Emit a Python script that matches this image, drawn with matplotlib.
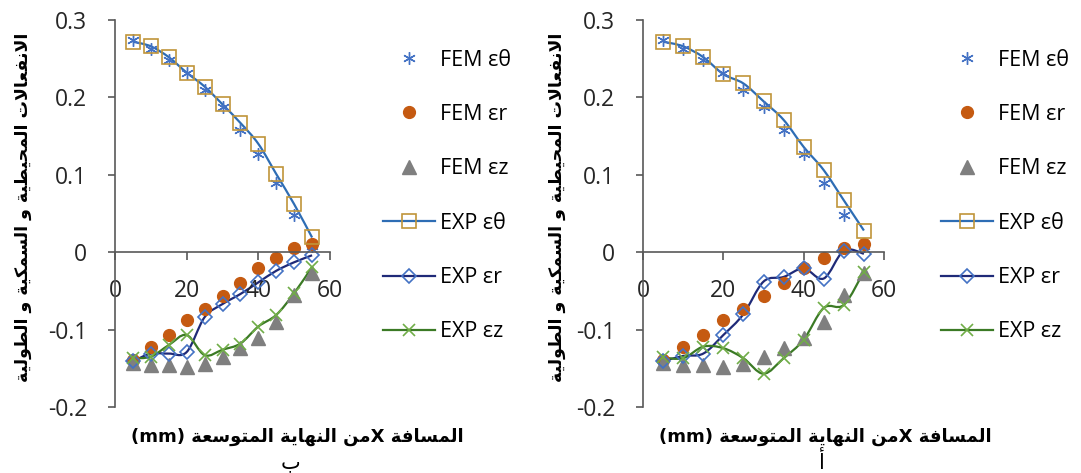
import numpy as np
import matplotlib
matplotlib.use("Agg")
import matplotlib.pyplot as plt
from matplotlib.path import Path
from matplotlib.patches import PathPatch
from matplotlib.lines import Line2D

plt.rcParams["font.family"] = ["Open Sans", "DejaVu Sans"]

# distance from the expanded end (mm)
x = [5, 10, 15, 20, 25, 30, 35, 40, 45, 50, 55]

# FEM results (same model in both panels)
fem_theta = [0.274, 0.263, 0.248, 0.232, 0.210, 0.188, 0.158, 0.127, 0.089, 0.048, 0.008]
fem_r = [-0.139, -0.122, -0.107, -0.088, -0.073, -0.057, -0.040, -0.021, -0.007, 0.005, 0.011]
fem_z = [-0.143, -0.146, -0.146, -0.148, -0.144, -0.136, -0.124, -0.111, -0.090, -0.055, -0.027]

# experiment, panel b (left)
exp_theta_b = [0.272, 0.266, 0.252, 0.232, 0.214, 0.191, 0.167, 0.140, 0.101, 0.062, 0.019]
exp_r_b = [-0.141, -0.131, -0.131, -0.129, -0.084, -0.067, -0.054, -0.039, -0.024, -0.013, -0.004]
exp_z_b = [-0.137, -0.135, -0.120, -0.107, -0.133, -0.126, -0.118, -0.096, -0.081, -0.053, -0.019]

# experiment, panel a (right)
exp_theta_a = [0.272, 0.266, 0.252, 0.230, 0.218, 0.195, 0.171, 0.136, 0.106, 0.067, 0.028]
exp_r_a = [-0.141, -0.134, -0.131, -0.107, -0.080, -0.038, -0.032, -0.021, -0.034, 0.002, -0.002]
exp_z_a = [-0.136, -0.137, -0.122, -0.124, -0.137, -0.157, -0.137, -0.113, -0.072, -0.068, -0.025]

xticks = [0, 20, 40, 60]
yticks = [-0.2, -0.1, 0, 0.1, 0.2, 0.3]
ytick_labels = ["-0.2", "-0.1", "0", "0.1", "0.2", "0.3"]
legend_labels = ["FEM εθ", "FEM εr", "FEM εz", "EXP εθ", "EXP εr", "EXP εz"]

ylabel_txt = "الانفعالات المحيطية و السمكية و الطولية"
xlabel_ar = "من النهاية المتوسعة"
xlabel_ar2 = "المسافة"

# --- simple arabic shaping (presentation forms, visual order) ---
FORMS = {
    "ا": ("\uFE8D", "\uFE8E", None, None),
    "أ": ("\uFE83", "\uFE84", None, None),
    "ب": ("\uFE8F", "\uFE90", "\uFE91", "\uFE92"),
    "ة": ("\uFE93", "\uFE94", None, None),
    "ت": ("\uFE95", "\uFE96", "\uFE97", "\uFE98"),
    "ح": ("\uFEA1", "\uFEA2", "\uFEA3", "\uFEA4"),
    "س": ("\uFEB1", "\uFEB2", "\uFEB3", "\uFEB4"),
    "ط": ("\uFEC1", "\uFEC2", "\uFEC3", "\uFEC4"),
    "ع": ("\uFEC9", "\uFECA", "\uFECB", "\uFECC"),
    "ف": ("\uFED1", "\uFED2", "\uFED3", "\uFED4"),
    "ك": ("\uFED9", "\uFEDA", "\uFEDB", "\uFEDC"),
    "ل": ("\uFEDD", "\uFEDE", "\uFEDF", "\uFEE0"),
    "م": ("\uFEE1", "\uFEE2", "\uFEE3", "\uFEE4"),
    "ن": ("\uFEE5", "\uFEE6", "\uFEE7", "\uFEE8"),
    "ه": ("\uFEE9", "\uFEEA", "\uFEEB", "\uFEEC"),
    "و": ("\uFEED", "\uFEEE", None, None),
    "ي": ("\uFEF1", "\uFEF2", "\uFEF3", "\uFEF4"),
    "لا": ("\uFEFB", "\uFEFC", None, None),
}


def shape(s):
    toks = []
    i = 0
    while i < len(s):
        if s[i] == "ل" and i + 1 < len(s) and s[i + 1] == "ا":
            toks.append("لا")
            i += 2
        else:
            toks.append(s[i])
            i += 1
    out = []
    for i, t in enumerate(toks):
        if t not in FORMS:
            out.append(t)
            continue
        prev = toks[i - 1] if i > 0 else None
        nxt = toks[i + 1] if i + 1 < len(toks) else None
        jp = prev in FORMS and FORMS[prev][2] is not None
        jn = FORMS[t][2] is not None and nxt in FORMS
        f = FORMS[t]
        if jp and jn:
            out.append(f[3])
        elif jp:
            out.append(f[1])
        elif jn:
            out.append(f[2])
        else:
            out.append(f[0])
    return "".join(out)[::-1]


def smooth_path(xs, ys):
    # excel style smoothed line (catmull-rom as cubic bezier)
    p = np.column_stack([xs, ys]).astype(float)
    n = len(p)
    verts = [p[0]]
    codes = [Path.MOVETO]
    for i in range(n - 1):
        p0 = p[max(i - 1, 0)]
        p1 = p[i]
        p2 = p[i + 1]
        p3 = p[min(i + 2, n - 1)]
        verts += [p1 + (p2 - p0) / 6, p2 - (p3 - p1) / 6, p2]
        codes += [Path.CURVE4] * 3
    return Path(verts, codes)


c_fem_t = "#4472C4"
c_fem_r = "#C55A11"
c_fem_z = "#7F7F7F"
c_line_t = "#2E6DB4"
c_mark_t = "#C0953A"
c_line_r = "#1F2A78"
c_mark_r = "#4472C4"
c_line_z = "#3B7A25"
c_mark_z = "#70AD47"
axis_col = "#595959"

fig = plt.figure(figsize=(10.81, 4.73), dpi=100)
ax_b = fig.add_axes([115 / 1081, 66 / 473, 215 / 1081, 387 / 473])
ax_a = fig.add_axes([643 / 1081, 66 / 473, 241 / 1081, 387 / 473])

asterisk = (6, 2, 0)

panels = [
    (ax_b, exp_theta_b, exp_r_b, exp_z_b),
    (ax_a, exp_theta_a, exp_r_a, exp_z_a),
]

for ax, et, er, ez in panels:
    ax.plot(x, fem_theta, ls="none", marker=asterisk, ms=9, color=c_fem_t, mew=1.0, clip_on=False)
    ax.plot(x, fem_r, ls="none", marker="o", ms=8.5, color=c_fem_r, mec=c_fem_r, clip_on=False)
    ax.plot(x, fem_z, ls="none", marker="^", ms=9.5, color=c_fem_z, mec=c_fem_z, clip_on=False)

    for ys, lc, mc, mk, msz in [(et, c_line_t, c_mark_t, "s", 10),
                               (er, c_line_r, c_mark_r, "D", 7.5),
                               (ez, c_line_z, c_mark_z, "x", 9)]:
        ax.add_patch(PathPatch(smooth_path(x, ys), fill=False, ec=lc, lw=1.6, clip_on=False))
        ax.plot(x, ys, ls="none", marker=mk, ms=msz, mfc="none", mec=mc, mew=1.2, clip_on=False)

    ax.set_xlim(0, 60)
    ax.set_ylim(-0.2, 0.3)
    ax.spines["top"].set_visible(False)
    ax.spines["right"].set_visible(False)
    ax.spines["bottom"].set_position(("data", 0))
    for sp in ["left", "bottom"]:
        ax.spines[sp].set_color(axis_col)
        ax.spines[sp].set_linewidth(1.2)
    ax.set_xticks(xticks)
    ax.set_yticks(yticks)
    ax.set_yticklabels(ytick_labels)
    ax.tick_params(axis="y", direction="out", length=5, width=1.2, color=axis_col,
                   pad=15, labelsize=16.5, labelcolor="#262626")
    ax.tick_params(axis="x", direction="out", length=6, width=1.2, color=axis_col,
                   pad=13, labelsize=16.5, labelcolor="#262626")
    ax.patch.set_alpha(0)

# legends
handles = [
    Line2D([], [], ls="none", marker=asterisk, ms=9, color=c_fem_t, mew=1.0),
    Line2D([], [], ls="none", marker="o", ms=8.5, color=c_fem_r),
    Line2D([], [], ls="none", marker="^", ms=9.5, color=c_fem_z),
    Line2D([], [], color=c_line_t, lw=1.6, marker="s", ms=10, mfc="none", mec=c_mark_t, mew=1.2),
    Line2D([], [], color=c_line_r, lw=1.6, marker="D", ms=7.5, mfc="none", mec=c_mark_r, mew=1.2),
    Line2D([], [], color=c_line_z, lw=1.6, marker="x", ms=9, mfc="none", mec=c_mark_z, mew=1.2),
]
for lx in [383 / 1081, 941 / 1081]:
    fig.legend(handles, legend_labels, loc="center left", bbox_to_anchor=(lx, 1 - 196 / 473),
               frameon=False, fontsize=15.5, handlelength=2.4, handletextpad=0.25,
               labelspacing=1.55, borderpad=0, borderaxespad=0, numpoints=1)

# arabic labels
ar_font = ["DejaVu Sans"]
ylab = shape(ylabel_txt)
xlab = "(mm) " + shape(xlabel_ar) + "X " + shape(xlabel_ar2)
for yx, xx, tag, tx in [(23, 297, "ب", 290), (557, 825, "أ", 822)]:
    fig.text(yx / 1081, 1 - 207 / 473, ylab, rotation=90, ha="center", va="center",
             fontsize=12.5, fontweight="bold", family=ar_font)
    fig.text(xx / 1081, 1 - 437 / 473, xlab, ha="center", va="center",
             fontsize=13, fontweight="bold", family=ar_font)
    fig.text(tx / 1081, 1 - 462 / 473, shape(tag), ha="center", va="center",
             fontsize=15, family=ar_font)

fig.savefig("out.png", dpi=100)
